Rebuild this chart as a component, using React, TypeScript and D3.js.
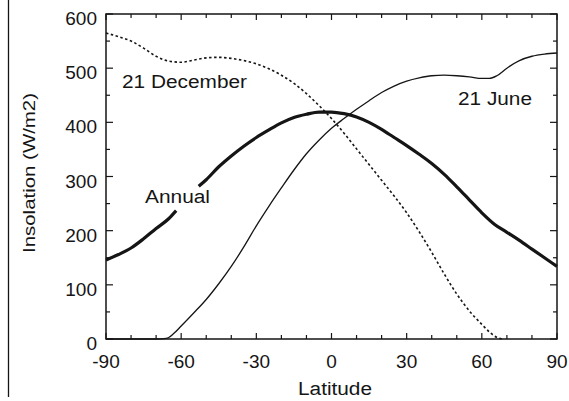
import React, { useEffect, useRef } from 'react';
import * as d3 from 'd3';

// latitude (deg) and insolation (W/m2)
const juneLat = [-90, -80, -70, -66, -63, -60, -55, -50, -45, -40, -35, -30, -25, -20, -15, -10, -5, 0, 5, 10, 15, 20, 25, 30, 35, 40, 45, 50, 55, 60, 63, 66, 70, 75, 80, 85, 90];
const juneVal = [0, 0, 0, 1, 10, 24, 48, 73, 102, 134, 170, 209, 245, 279, 312, 342, 367, 389, 407, 424, 440, 455, 467, 476, 482, 486, 487, 486, 484, 481, 481, 486, 500, 514, 522, 526, 528];

const decLat = [-90, -85, -80, -75, -70, -65, -60, -55, -50, -45, -40, -35, -30, -25, -20, -15, -10, -5, 0, 5, 10, 15, 20, 25, 30, 35, 40, 45, 50, 55, 60, 63, 66, 68];
const decVal = [565, 558, 550, 537, 522, 513, 511, 515, 519, 520, 518, 514, 508, 499, 487, 472, 453, 431, 407, 380, 351, 322, 293, 264, 233, 198, 160, 120, 83, 52, 27, 13, 3, 0];

// null = gap where the "Annual" label sits
const annLat = [-90, -85, -80, -75, -70, -65, -62, -57, -53, -50, -45, -40, -35, -30, -25, -20, -15, -10, -5, 0, 5, 10, 15, 20, 25, 30, 35, 40, 45, 50, 55, 60, 65, 70, 75, 80, 85, 90];
const annVal = [146, 156, 168, 185, 204, 222, 237, null, 282, 294, 318, 338, 356, 372, 386, 399, 409, 415, 419, 419, 416, 410, 400, 387, 372, 357, 341, 324, 304, 281, 257, 233, 212, 197, 182, 166, 150, 134];

const xTicks = [-90, -60, -30, 0, 30, 60, 90];
const yTicks = [0, 100, 200, 300, 400, 500, 600];

const FONT = 'Liberation Sans, Arial, Helvetica, sans-serif';
const INK = '#151515';

const App = () => {
  const ref = useRef<SVGSVGElement>(null);

  useEffect(() => {
    const width = 569, height = 401;
    const m = { left: 106, right: 557, top: 14, bottom: 339 };

    const svg = d3.select(ref.current);
    svg.selectAll('*').remove();
    svg.attr('width', width).attr('height', height);

    svg.append('rect').attr('width', width).attr('height', height).attr('fill', '#fff');

    const x = d3.scaleLinear().domain([-90, 90]).range([m.left, m.right]);
    const y = d3.scaleLinear().domain([0, 600]).range([m.bottom, m.top]);

    // scan border at the left
    svg.append('line')
      .attr('x1', 8.5).attr('x2', 8.5).attr('y1', 0).attr('y2', 397)
      .attr('stroke', INK).attr('stroke-width', 1.3);

    // frame
    svg.append('rect')
      .attr('x', m.left).attr('y', m.top)
      .attr('width', m.right - m.left).attr('height', m.bottom - m.top)
      .attr('fill', 'none').attr('stroke', INK).attr('stroke-width', 1.5);

    // ticks, inward on all four sides
    const g = svg.append('g').attr('stroke', INK).attr('stroke-width', 1.2);
    d3.range(-90, 91, 10).forEach(v => {
      const len = v % 30 === 0 ? 6 : 4;
      g.append('line').attr('x1', x(v)).attr('x2', x(v)).attr('y1', m.bottom).attr('y2', m.bottom - len);
      g.append('line').attr('x1', x(v)).attr('x2', x(v)).attr('y1', m.top).attr('y2', m.top + len);
    });
    d3.range(0, 601, 50).forEach(v => {
      const len = v % 100 === 0 ? 7 : 4;
      g.append('line').attr('y1', y(v)).attr('y2', y(v)).attr('x1', m.left).attr('x2', m.left + len);
      g.append('line').attr('y1', y(v)).attr('y2', y(v)).attr('x1', m.right).attr('x2', m.right - len);
    });

    // tick labels
    xTicks.forEach(v => {
      svg.append('text')
        .attr('x', x(v)).attr('y', 368)
        .attr('text-anchor', 'middle')
        .style('font-family', FONT).style('font-size', '19px').attr('fill', INK)
        .text(v);
    });
    yTicks.forEach(v => {
      svg.append('text')
        .attr('x', 97).attr('y', y(v) + 11)
        .attr('text-anchor', 'end')
        .style('font-family', FONT).style('font-size', '19px').attr('fill', INK)
        .text(v);
    });

    // axis titles
    svg.append('text')
      .attr('x', 298).attr('y', 395)
      .attr('textLength', 74).attr('lengthAdjust', 'spacingAndGlyphs')
      .style('font-family', FONT).style('font-size', '18px').attr('fill', INK)
      .text('Latitude');
    svg.append('text')
      .attr('transform', 'translate(35,253) rotate(-90)')
      .attr('textLength', 160).attr('lengthAdjust', 'spacingAndGlyphs')
      .style('font-family', FONT).style('font-size', '17px').attr('fill', INK)
      .text('Insolation (W/m2)');

    const line = d3.line<[number, number | null]>()
      .defined(d => d[1] !== null)
      .x(d => x(d[0]))
      .y(d => y(d[1] as number))
      .curve(d3.curveMonotoneX);

    const pairs = (la: number[], va: (number | null)[]) => la.map((l, i) => [l, va[i]] as [number, number | null]);

    svg.append('path')
      .attr('d', line(pairs(decLat, decVal)))
      .attr('fill', 'none').attr('stroke', INK)
      .attr('stroke-width', 1.6).attr('stroke-dasharray', '2.5,2.5');

    svg.append('path')
      .attr('d', line(pairs(juneLat, juneVal)))
      .attr('fill', 'none').attr('stroke', INK).attr('stroke-width', 1.3);

    svg.append('path')
      .attr('d', line(pairs(annLat, annVal)))
      .attr('fill', 'none').attr('stroke', INK).attr('stroke-width', 3.2)
      .attr('stroke-linejoin', 'round');

    // curve labels
    const labels: [string, number, number, number][] = [
      ['21 December', 122, 88, 125],
      ['21 June', 458, 105, 74],
      ['Annual', 145, 203, 65],
    ];
    labels.forEach(([t, lx, ly, w]) => {
      svg.append('text')
        .attr('x', lx).attr('y', ly)
        .attr('textLength', w).attr('lengthAdjust', 'spacingAndGlyphs')
        .style('font-family', FONT).style('font-size', '18px').attr('fill', INK)
        .text(t);
    });
  }, []);

  return (
    <svg ref={ref} style={{ position: 'absolute', left: 0, top: 0, display: 'block' }} />
  );
};

export default App;
